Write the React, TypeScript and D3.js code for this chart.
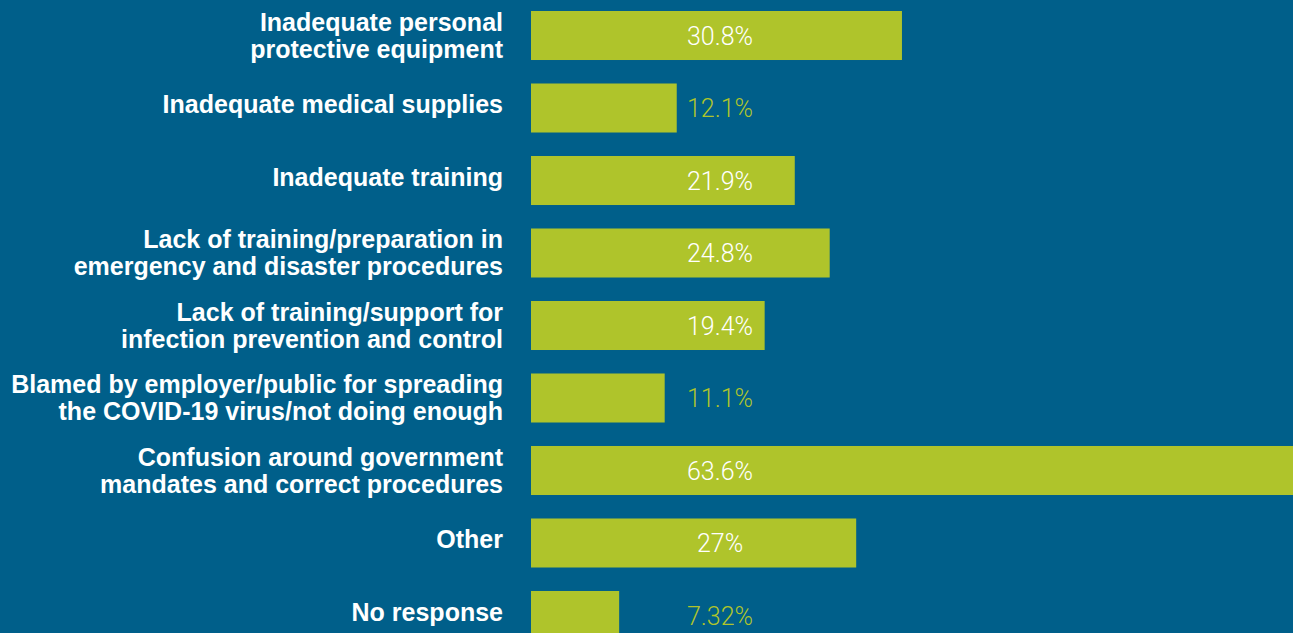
import React, { useEffect, useRef } from "react";
import * as d3 from "d3";

// Challenges reported (share of respondents, %)
const categories = [
  ["Inadequate personal", "protective equipment"],
  ["Inadequate medical supplies"],
  ["Inadequate training"],
  ["Lack of training/preparation in", "emergency and disaster procedures"],
  ["Lack of training/support for", "infection prevention and control"],
  ["Blamed by employer/public for spreading", "the COVID-19 virus/not doing enough"],
  ["Confusion around government", "mandates and correct procedures"],
  ["Other"],
  ["No response"],
];
const values = [30.8, 12.1, 21.9, 24.8, 19.4, 11.1, 63.6, 27, 7.32];
const valueLabels = ["30.8%", "12.1%", "21.9%", "24.8%", "19.4%", "11.1%", "63.6%", "27%", "7.32%"];

const W = 1293;
const H = 633;
const BG = "#005f8a";
const BAR = "#afc42b";

const App = () => {
  const ref = useRef<SVGSVGElement | null>(null);

  useEffect(() => {
    const svg = d3.select(ref.current);
    svg.selectAll("*").remove();

    const keys = categories.map((_, i) => String(i));

    const y = d3.scaleBand().domain(keys).range([11, 640]).paddingInner(0.324).paddingOuter(0);
    const x = d3.scaleLinear().domain([0, 63.6]).range([531, 1297]);

    svg.append("rect").attr("width", W).attr("height", H).attr("fill", BG);

    const rows = svg
      .selectAll("g.row")
      .data(values)
      .join("g")
      .attr("class", "row")
      .attr("transform", (_, i) => `translate(0,${y(keys[i])})`);

    rows
      .append("rect")
      .attr("x", x(0))
      .attr("y", 0)
      .attr("width", (d) => x(d) - x(0))
      .attr("height", y.bandwidth())
      .attr("fill", BAR);

    const mid = y.bandwidth() / 2;

    // category labels
    rows.each(function (_, i) {
      const lines = categories[i];
      const t = d3
        .select(this)
        .append("text")
        .attr("text-anchor", "end")
        .attr("fill", "#fff")
        .attr("font-family", "'Liberation Sans', Arial, sans-serif")
        .attr("font-weight", "bold")
        .attr("font-size", 25);
      const base = lines.length > 1 ? [mid - 5, mid + 22.5] : [mid + 5.5];
      lines.forEach((ln, j) => {
        t.append("tspan").attr("x", 503).attr("y", base[j]).text(ln);
      });
    });

    // value labels
    rows
      .append("text")
      .attr("x", 720)
      .attr("y", mid + 9.5)
      .attr("text-anchor", "middle")
      .attr("font-family", "Roboto, 'Liberation Sans', sans-serif")
      .attr("font-weight", 300)
      .attr("font-size", 25)
      .attr("fill", (d) => (x(d) > 760 ? "#fff" : BAR))
      .text((_, i) => valueLabels[i]);
  }, []);

  return (
    <svg
      ref={ref}
      width={W}
      height={H}
      style={{ position: "fixed", left: 0, top: 0, display: "block" }}
    />
  );
};

export default App;
